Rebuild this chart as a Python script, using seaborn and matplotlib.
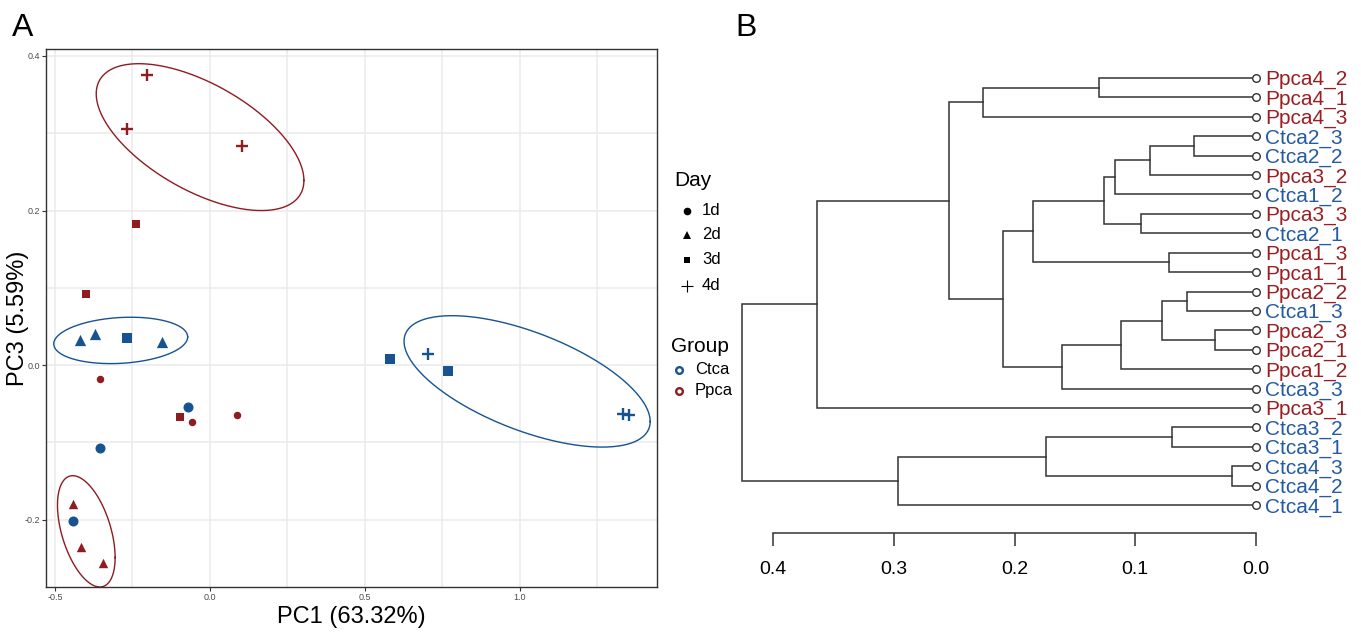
import numpy as np
import pandas as pd
import matplotlib
matplotlib.use("Agg")
import matplotlib.pyplot as plt
from matplotlib.ticker import FixedLocator
import seaborn as sns

# ---------------- Data: PCA (panel A) ----------------
group = ["Ctca"] * 12 + ["Ppca"] * 12
day = (["1d"] * 3 + ["2d"] * 3 + ["3d"] * 3 + ["4d"] * 3) * 2
pc1 = [-0.072, -0.354, -0.441,   -0.419, -0.371, -0.156,
       -0.269, 0.582, 0.769,     0.704, 1.331, 1.351,
       -0.355, -0.057, 0.086,    -0.441, -0.417, -0.346,
       -0.240, -0.400, -0.096,   -0.202, -0.267, 0.102]
pc3 = [-0.054, -0.107, -0.202,   0.032, 0.040, 0.030,
       0.035, 0.008, -0.007,     0.015, -0.063, -0.065,
       -0.018, -0.073, -0.065,   -0.180, -0.235, -0.256,
       0.183, 0.092, -0.067,     0.376, 0.305, 0.283]

# ellipses: centre, half extents along x / y, and x-y coupling
ell_group = ["Ppca", "Ctca", "Ctca", "Ppca"]
ell_cx = [-0.032, -0.288, 1.023, -0.399]
ell_cy = [0.295, 0.032, -0.021, -0.215]
ell_hx = [0.335, 0.216, 0.397, 0.093]
ell_hy = [0.095, 0.030, 0.085, 0.072]
ell_rho = [-0.59, 0.15, -0.61, -0.47]

# ---------------- Data: dendrogram (panel B) ----------------
leaf_order = ["Ppca4_2", "Ppca4_1", "Ppca4_3", "Ctca2_3", "Ctca2_2", "Ppca3_2",
              "Ctca1_2", "Ppca3_3", "Ctca2_1", "Ppca1_3", "Ppca1_1", "Ppca2_2",
              "Ctca1_3", "Ppca2_3", "Ppca2_1", "Ppca1_2", "Ctca3_3", "Ppca3_1",
              "Ctca3_2", "Ctca3_1", "Ctca4_3", "Ctca4_2", "Ctca4_1"]
merge_a = ["Ctca4_3", "Ppca2_3", "Ctca2_3", "Ppca2_2", "Ctca3_2", "Ppca1_3", "M4", "M3",
           "Ppca3_3", "M7", "M8", "M11", "Ppca4_2", "M10", "M5", "M12", "M16", "M13",
           "M18", "M15", "M19", "M21"]
merge_b = ["Ctca4_2", "Ppca2_1", "Ctca2_2", "Ctca1_3", "Ctca3_1", "Ppca1_1", "M2", "Ppca3_2",
           "Ctca2_1", "Ppca1_2", "Ctca1_2", "M9", "Ppca4_1", "Ctca3_3", "M1", "M6", "M14",
           "Ppca4_3", "M17", "Ctca4_1", "Ppca3_1", "M20"]
merge_h = [0.020, 0.034, 0.051, 0.057, 0.070, 0.072, 0.078, 0.088, 0.095, 0.112, 0.117,
           0.126, 0.130, 0.161, 0.174, 0.185, 0.210, 0.226, 0.254, 0.297, 0.364, 0.426]
dend_ticks = [0.4, 0.3, 0.2, 0.1, 0.0]

# ---------------- Style ----------------
plt.rcParams["font.family"] = ["Liberation Sans", "DejaVu Sans"]
RED = "#8E1C20"
BLUE = "#175391"
TXT_RED = "#9A1E22"
TXT_BLUE = "#245AA3"
colors = {"Ctca": BLUE, "Ppca": RED}
markers = {"1d": "o", "2d": "^", "3d": "s", "4d": "+"}
sizes = {"Ctca": {"1d": 52, "2d": 66, "3d": 48, "4d": 74},
         "Ppca": {"1d": 29, "2d": 46, "3d": 31, "4d": 74}}

W, H = 1361, 633
fig = plt.figure(figsize=(W / 100, H / 100), dpi=100)

def px_rect(l, t, r, b):
    return [l / W, (H - b) / H, (r - l) / W, (b - t) / H]

# ---------------- Panel A ----------------
ax1 = fig.add_axes(px_rect(46, 49, 657, 587))
df = pd.DataFrame({"PC1": pc1, "PC3": pc3, "Group": group, "Day": day})

grid_c = "#EBEBEB"
ax1.set_xlim(-0.529, 1.442)
ax1.set_ylim(-0.287, 0.409)
ax1.xaxis.set_major_locator(FixedLocator([-0.5, 0.0, 0.5, 1.0]))
ax1.xaxis.set_minor_locator(FixedLocator([-0.25, 0.25, 0.75, 1.25]))
ax1.yaxis.set_major_locator(FixedLocator([-0.2, 0.0, 0.2, 0.4]))
ax1.yaxis.set_minor_locator(FixedLocator([-0.1, 0.1, 0.3]))
ax1.grid(True, which="both", color=grid_c, linewidth=1.1)
ax1.set_axisbelow(True)

for i in range(len(ell_cx)):
    t = np.linspace(0, 2 * np.pi, 300)
    d = np.arccos(ell_rho[i])
    ex = ell_cx[i] + ell_hx[i] * np.cos(t)
    ey = ell_cy[i] + ell_hy[i] * np.cos(t + d)
    ax1.plot(ex, ey, color=colors[ell_group[i]], linewidth=1.0, zorder=2)

for (g, dd), sub in df.groupby(["Group", "Day"]):
    kw = dict(data=sub, x="PC1", y="PC3", marker=markers[dd], s=sizes[g][dd],
              color=colors[g], ax=ax1, legend=False, zorder=3)
    kw["linewidth"] = 1.7 if dd == "4d" else 0
    sns.scatterplot(**kw)

ax1.set_xticklabels(["-0.5", "0.0", "0.5", "1.0"])
ax1.set_yticklabels(["-0.2", "0.0", "0.2", "0.4"])
ax1.tick_params(which="major", direction="out", length=2.8, width=0.8, color="#333333",
                labelsize=6.5, labelcolor="#4D4D4D", pad=1.5)
ax1.tick_params(which="minor", length=0)
for sp in ax1.spines.values():
    sp.set_color("#333333")
    sp.set_linewidth(1.0)
ax1.set_xlabel("PC1 (63.32%)", fontsize=17, labelpad=3)
ax1.set_ylabel("")
fig.text(18 / W, 1 - 318 / H, "PC3 (5.59%)", fontsize=17, rotation=90,
         ha="center", va="center")

# ---------------- Legend ----------------
lax = fig.add_axes(px_rect(660, 160, 760, 400))
lax.set_xlim(660, 760)
lax.set_ylim(400, 160)
lax.axis("off")
lax.text(674, 186, "Day", fontsize=15, va="baseline", ha="left")
day_rows = [211, 235, 260, 286]
leg_ms = {"1d": 5.5, "2d": 6.0, "3d": 5.0, "4d": 8.0}
for dd, yy in zip(["1d", "2d", "3d", "4d"], day_rows):
    lax.plot([687], [yy], marker=markers[dd], color="black", linestyle="none",
             markersize=leg_ms[dd], markeredgewidth=0.8 if dd == "4d" else 0)
    lax.text(702, yy, dd, fontsize=12, va="center", ha="left")
lax.text(671, 352, "Group", fontsize=15, va="baseline", ha="left")
for gg, yy in zip(["Ctca", "Ppca"], [370, 391]):
    lax.plot([679], [yy], marker="o", color=colors[gg], markerfacecolor="none",
             linestyle="none", markersize=4.8, markeredgewidth=1.7)
    lax.text(695, yy, gg, fontsize=12, va="center", ha="left")

# ---------------- Panel B ----------------
ax2 = fig.add_axes(px_rect(737, 60, 1256, 533))
ax2.set_xlim(0.43, 0.0)
ax2.set_ylim(23.44, -0.927)

node_y = {n: float(i) for i, n in enumerate(leaf_order)}
node_h = {n: 0.0 for n in leaf_order}
for k, (a, b, h) in enumerate(zip(merge_a, merge_b, merge_h), start=1):
    ya, yb = node_y[a], node_y[b]
    ax2.plot([node_h[a], h, h, node_h[b]], [ya, ya, yb, yb], color="#333333",
             linewidth=1.1, solid_joinstyle="miter", zorder=2)
    node_y[f"M{k}"] = (ya + yb) / 2
    node_h[f"M{k}"] = h

leaves = pd.DataFrame({"h": [0.0] * len(leaf_order), "pos": list(range(len(leaf_order)))})
sns.scatterplot(data=leaves, x="h", y="pos", ax=ax2, marker="o", s=30,
                facecolor="white", edgecolor="#333333", linewidth=1.0,
                legend=False, zorder=3, clip_on=False)
for i, name in enumerate(leaf_order):
    c = TXT_RED if name.startswith("Ppca") else TXT_BLUE
    ax2.annotate(name, xy=(0.0, i), xytext=(6.5, -5.2), textcoords="offset points",
                 va="baseline", ha="left", fontsize=15, color=c, annotation_clip=False)

for s in ["left", "right", "top"]:
    ax2.spines[s].set_visible(False)
ax2.spines["bottom"].set_bounds(0.0, 0.4)
ax2.spines["bottom"].set_color("#333333")
ax2.spines["bottom"].set_linewidth(1.1)
ax2.set_yticks([])
ax2.set_xticks(dend_ticks)
ax2.set_xticklabels([f"{v:.1f}" for v in dend_ticks])
ax2.tick_params(axis="x", direction="out", length=9.4, width=1.1, color="#333333",
                labelsize=14, pad=11)
ax2.set_xlabel("")
ax2.set_ylabel("")
ax2.patch.set_visible(False)

# panel letters
fig.text(12 / W, 1 - 36 / H, "A", fontsize=23, va="baseline", ha="left")
fig.text(735 / W, 1 - 36 / H, "B", fontsize=23, va="baseline", ha="left")

fig.savefig("out.png", dpi=100)
